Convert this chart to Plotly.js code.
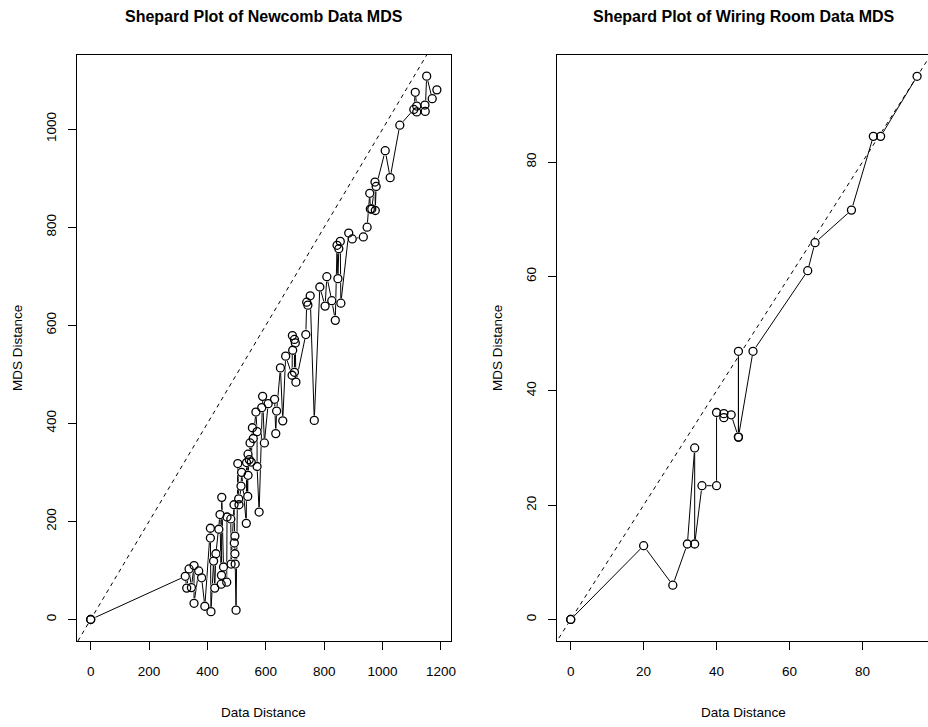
<!DOCTYPE html>
<html>
<head>
<meta charset="utf-8">
<script src="https://cdn.plot.ly/plotly-3.0.1.min.js"></script>
<style>
html, body { margin:0; padding:0; overflow:hidden; background:#fff; width:928px; height:727px; }
#chart { width:935px; height:727px; }
</style>
</head>
<body>
<div id="chart"></div>
<script>
// Newcomb data Shepard plot (x = data distance, y = MDS distance), sorted by x
const newcombX = [0,0,324,329,337,345,354,354,370,380,391,410,410,412,421,425,429,439,443,447,448,449,455,466,467,480,481,491,492,494,494,495,498,504,507,508,515,517,533,534,538,539,539,543,546,550,554,557,566,570,570,577,586,589,595,608,630,634,637,650,658,668,690,691,692,698,698,701,703,737,740,744,752,766,785,803,809,826,838,844,847,850,855,857,884,896,934,947,956,958,963,974,975,978,1009,1026,1059,1107,1112,1117,1117,1145,1146,1151,1170,1186];
const newcombY = [0,0,88,64,103,65,110,33,99,85,27,186,166,16,119,64,134,184,214,72,90,249,107,76,209,205,113,234,156,170,134,113,19,318,246,234,272,300,196,320,251,337,294,326,360,321,391,369,423,383,312,219,432,455,360,440,449,379,425,513,405,537,498,579,549,571,504,564,484,581,647,641,660,406,678,639,699,650,610,763,695,756,771,645,788,776,780,800,869,837,837,892,834,883,956,901,1008,1040,1075,1047,1035,1049,1036,1108,1062,1080];

// Wiring room data Shepard plot
const wiringX = [0,0,20,28,32,34,34,36,40,40,42,42,44,46,46,46,50,65,67,77,83,85,95];
const wiringY = [0,0,12.9,6.0,13.2,30.0,13.2,23.4,23.4,36.2,36.0,35.3,35.8,31.9,46.9,31.9,46.9,61.0,65.9,71.6,84.5,84.5,95.0];

// reference line y = x
const refLine = [-100, 2000];

const titles = ["Shepard Plot of Newcomb Data MDS", "Shepard Plot of Wiring Room Data MDS"];
const xTitle = "Data Distance";
const yTitle = "MDS Distance";
const newcombTicksX = [0,200,400,600,800,1000,1200];
const newcombTicksY = [0,200,400,600,800,1000];
const wiringTicks = [0,20,40,60,80];

const W = 935, H = 727;
const dashLine = {color:'#000', width:1, dash:'4px,4px'};

function panel(xs, ys, xa, ya) {
  return [
    {x: refLine, y: refLine, xaxis: xa, yaxis: ya, mode:'lines', line: dashLine, hoverinfo:'skip'},
    {x: xs, y: ys, xaxis: xa, yaxis: ya, mode:'lines', line:{color:'#000', width:1}},
    {x: xs, y: ys, xaxis: xa, yaxis: ya, mode:'markers', marker:{symbol:'circle', size:10, color:'#fff', line:{width:0}}},
    {x: xs, y: ys, xaxis: xa, yaxis: ya, mode:'markers', marker:{symbol:'circle-open', size:8, color:'#000', line:{width:1.3, color:'#000'}}}
  ];
}

const data = panel(newcombX, newcombY, 'x', 'y').concat(panel(wiringX, wiringY, 'x2', 'y2'));

const yDom = [(H-641.2)/H, (H-54.6)/H];
const axBase = {
  ticks:'outside', ticklen:8, tickwidth:1, tickcolor:'#000',
  showline:true, mirror:true, linecolor:'#000', linewidth:1,
  showgrid:false, zeroline:false, fixedrange:true,
  tickfont:{family:'Liberation Sans, Arial, sans-serif', size:13.5, color:'#000'}
};

const ann = [];
const centers = [(76.85+450.85)/2, (556.85+930.95)/2];
const yTitleX = [18, 498];
for (let i=0;i<2;i++){
  ann.push({text:'<b>'+titles[i]+'</b>', xref:'paper', yref:'paper', x:centers[i]/W, y:(H-17)/H, xanchor:'center', yanchor:'middle', showarrow:false, font:{family:'Liberation Sans, Arial, sans-serif', size:16, color:'#000'}});
  ann.push({text:xTitle, xref:'paper', yref:'paper', x:centers[i]/W, y:(H-712)/H, xanchor:'center', yanchor:'middle', showarrow:false, font:{family:'Liberation Sans, Arial, sans-serif', size:13.5, color:'#000'}});
  ann.push({text:yTitle, xref:'paper', yref:'paper', x:yTitleX[i]/W, y:(H-347.9)/H, xanchor:'center', yanchor:'middle', textangle:-90, showarrow:false, font:{family:'Liberation Sans, Arial, sans-serif', size:13.5, color:'#000'}});
}

const layout = {
  width: W, height: H,
  margin:{l:0,r:0,t:0,b:0},
  paper_bgcolor:'#fff', plot_bgcolor:'#fff',
  showlegend:false,
  xaxis: Object.assign({}, axBase, {domain:[76.85/W, 450.85/W], range:[-47.45,1233.85], tickvals:newcombTicksX, anchor:'y', ticklabelstandoff:10}),
  yaxis: Object.assign({}, axBase, {domain:yDom, range:[-44.3,1151.9], tickvals:newcombTicksY, anchor:'x', tickangle:-90, ticklabelstandoff:6}),
  xaxis2: Object.assign({}, axBase, {domain:[556.85/W, 930.95/W], range:[-3.8,98.8], tickvals:wiringTicks, anchor:'y2', ticklabelstandoff:10}),
  yaxis2: Object.assign({}, axBase, {domain:yDom, range:[-3.8,98.8], tickvals:wiringTicks, anchor:'x2', tickangle:-90, ticklabelstandoff:6}),
  annotations: ann
};

Plotly.newPlot('chart', data, layout, {staticPlot:true, displayModeBar:false});
</script>
</body>
</html>
